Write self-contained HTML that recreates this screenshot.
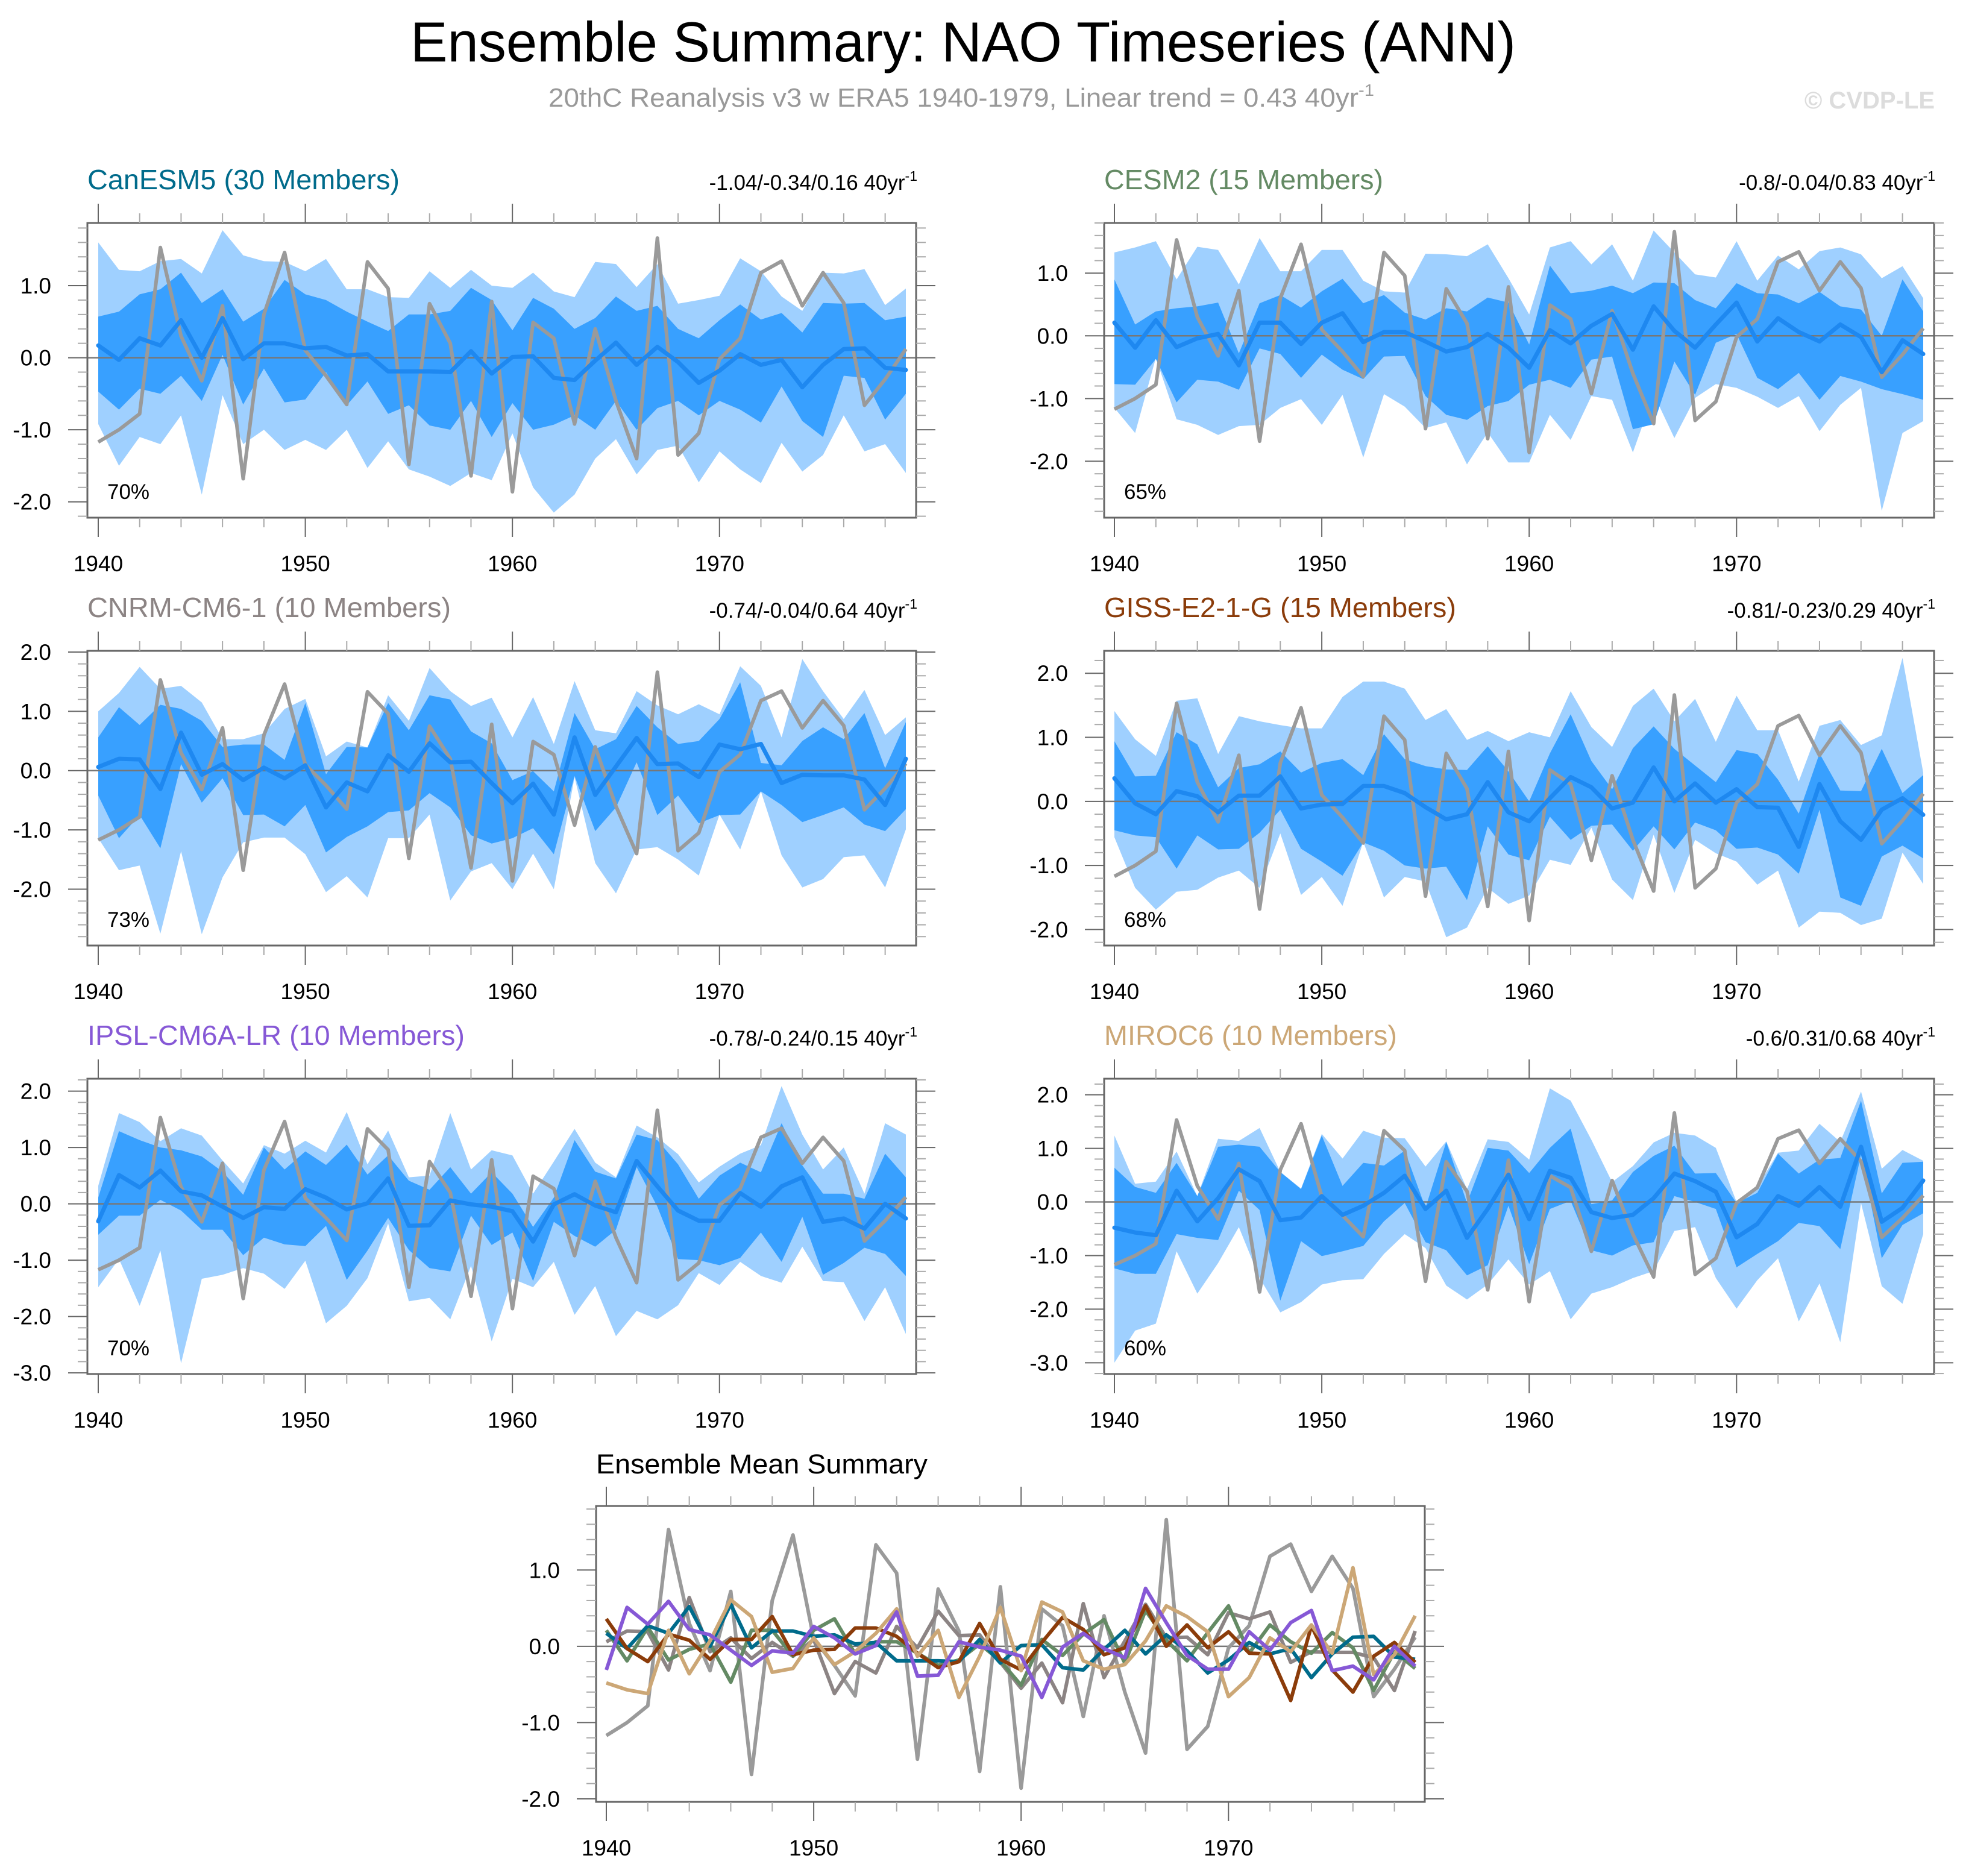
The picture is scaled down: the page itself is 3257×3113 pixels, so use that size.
<!DOCTYPE html>
<html><head><meta charset="utf-8"><title>Ensemble Summary: NAO Timeseries (ANN)</title>
<style>
html,body{margin:0;padding:0;background:#fff;}
svg{display:block;font-family:"Liberation Sans",Arial,sans-serif;}
</style></head>
<body>
<svg id="chart" xmlns="http://www.w3.org/2000/svg" width="3257" height="3113" viewBox="0 0 3257 3113">
<rect x="0" y="0" width="3257" height="3113" fill="#fff"/>
<text x="681" y="102" font-size="94" textLength="1834" lengthAdjust="spacingAndGlyphs" fill="#000">Ensemble Summary: NAO Timeseries (ANN)</text>
<text x="910" y="177" font-size="44" textLength="1370" lengthAdjust="spacingAndGlyphs" fill="#999">20thC Reanalysis v3 w ERA5 1940-1979, Linear trend = 0.43 40yr<tspan dy="-18" font-size="28">-1</tspan></text>
<text x="3210" y="180" font-size="40" font-weight="bold" text-anchor="end" fill="#dcdcdc">© CVDP-LE</text>
<g id="plots"></g>
</svg>
<script>
const years = [];
for (let y = 1940; y <= 1979; y++) years.push(y);
const xTickLabels = ["1940","1950","1960","1970"];

const obs = [-1.17,-1.0,-0.78,1.53,0.3,-0.32,0.72,-1.68,0.6,1.46,0.1,-0.25,-0.65,1.33,0.96,-1.48,0.75,0.2,-1.64,0.78,-1.86,0.49,0.27,-0.92,0.4,-0.6,-1.4,1.66,-1.35,-1.05,-0.02,0.27,1.18,1.34,0.72,1.18,0.76,-0.66,-0.3,0.12];

// CanESM5
const canMean = [0.17,-0.03,0.27,0.17,0.52,0.0,0.55,-0.02,0.2,0.2,0.13,0.15,0.03,0.05,-0.19,-0.19,-0.19,-0.2,0.09,-0.22,0.01,0.02,-0.28,-0.31,-0.04,0.21,-0.1,0.15,-0.06,-0.35,-0.18,0.05,-0.1,-0.03,-0.41,-0.1,0.12,0.13,-0.14,-0.17];
const canInHi = [0.57,0.64,0.88,0.95,1.18,0.76,0.95,0.5,0.68,1.08,0.88,0.8,0.64,0.5,0.37,0.6,0.6,0.65,0.97,0.8,0.38,0.83,0.68,0.4,0.55,0.85,0.65,0.72,0.4,0.27,0.52,0.74,0.53,0.62,0.35,0.76,0.75,0.76,0.52,0.57];
const canInLo = [-0.47,-0.72,-0.43,-0.5,-0.25,-0.6,0.04,-0.65,-0.15,-0.62,-0.58,-0.2,-0.66,-0.33,-0.78,-0.66,-0.94,-1.0,-0.6,-1.1,-0.63,-1.0,-0.93,-0.8,-1.0,-0.6,-1.0,-0.7,-0.6,-0.8,-0.6,-0.72,-0.9,-0.4,-0.88,-1.1,-0.25,-0.28,-0.86,-0.5];
const canOutHi = [1.6,1.22,1.2,1.34,1.37,1.17,1.77,1.42,1.34,1.33,1.2,1.37,0.95,0.95,0.84,0.83,1.2,0.97,1.22,1.0,0.97,1.18,0.92,0.84,1.33,1.3,0.98,1.3,0.75,0.8,0.86,1.38,1.2,0.85,0.65,1.18,1.17,1.23,0.73,0.96];
const canOutLo = [-0.92,-1.5,-1.1,-1.2,-0.8,-1.9,-0.52,-1.2,-1.0,-1.28,-1.14,-1.28,-1.0,-1.53,-1.16,-1.55,-1.65,-1.78,-1.6,-1.7,-1.05,-1.8,-2.15,-1.9,-1.4,-1.13,-1.62,-1.28,-1.22,-1.73,-1.3,-1.55,-1.74,-1.18,-1.58,-1.35,-0.8,-1.3,-1.2,-1.6];
const canYTicks = ["1.0","0.0","-1.0","-2.0"];

// CESM2
const cesmMean = [0.21,-0.19,0.25,-0.18,-0.04,0.03,-0.47,0.21,0.21,-0.13,0.21,0.36,-0.1,0.06,0.06,-0.09,-0.25,-0.18,0.03,-0.19,-0.51,0.09,-0.12,0.16,0.35,-0.22,0.47,0.08,-0.19,0.18,0.53,-0.09,0.28,0.06,-0.09,0.18,-0.02,-0.58,-0.07,-0.29];
const cesmInHi = [0.9,0.18,0.39,0.44,0.47,0.53,-0.28,0.52,0.65,0.45,0.71,0.91,0.52,0.65,0.37,0.26,0.44,0.39,0.61,0.53,-0.14,1.12,0.68,0.72,0.8,0.68,0.85,0.84,0.57,0.44,0.84,0.68,0.66,0.52,0.7,0.47,0.42,0.0,0.9,0.39];
const cesmInLo = [-0.77,-0.78,-0.37,-1.06,-0.7,-0.73,-0.86,-0.2,-0.29,-0.67,-0.3,-0.54,-0.69,-0.33,-0.32,-0.96,-1.26,-1.34,-1.12,-1.04,-0.78,-0.7,-0.83,-0.38,-0.33,-1.49,-1.41,-0.41,-0.94,-0.11,0.03,-0.67,-0.85,-0.59,-1.02,-0.64,-0.73,-0.85,-0.93,-1.02];
const cesmOutHi = [1.33,1.41,1.51,0.9,1.42,1.37,0.82,1.56,1.03,1.03,1.37,1.37,0.88,0.71,0.69,1.31,1.3,1.27,1.46,0.92,0.34,1.41,1.51,1.14,1.46,0.88,1.68,1.33,0.98,0.93,1.51,0.88,1.28,1.06,1.35,1.41,1.3,0.92,1.11,0.6];
const cesmOutLo = [-1.15,-1.55,-0.35,-1.33,-1.42,-1.58,-1.44,-1.42,-1.15,-1.01,-1.42,-0.94,-1.94,-0.93,-1.13,-1.47,-1.38,-2.05,-1.54,-2.02,-2.02,-1.26,-1.66,-0.96,-1.02,-1.86,-0.93,-1.63,-0.99,-0.77,-0.83,-0.97,-1.15,-0.96,-1.52,-1.1,-0.83,-2.79,-1.55,-1.36];
const cesmYTicks = ["1.0","0.0","-1.0","-2.0"];

// CNRM-CM6-1
const cnrmMean = [0.06,0.2,0.19,-0.31,0.64,-0.07,0.11,-0.16,0.05,-0.13,0.09,-0.62,-0.2,-0.35,0.26,-0.02,0.46,0.14,0.15,-0.21,-0.55,-0.22,-0.74,0.56,-0.41,0.07,0.55,0.11,0.12,-0.11,0.44,0.36,0.45,-0.21,-0.07,-0.08,-0.08,-0.15,-0.58,0.2];
const cnrmInHi = [0.56,1.07,0.77,1.11,1.04,0.84,0.4,0.44,0.44,0.18,1.14,-0.06,0.4,0.39,1.14,0.68,1.27,1.2,0.66,0.46,-0.16,-0.01,-0.35,0.97,0.36,0.53,1.09,0.73,0.45,0.5,0.87,1.49,0.13,0.09,0.5,0.73,0.53,0.97,0.04,0.82];
const cnrmInLo = [-0.42,-1.14,-0.75,-1.31,0.11,-0.54,-0.13,-0.75,-0.74,-0.94,-0.58,-1.38,-1.12,-0.94,-0.7,-0.67,-0.38,-0.62,-1.09,-1.23,-1.14,-0.97,-1.41,-0.09,-1.02,-0.62,0.14,-0.75,-0.42,-0.89,-0.75,-0.74,-0.35,-0.58,-0.87,-0.75,-0.62,-0.91,-1.02,-0.65];
const cnrmOutHi = [1.0,1.31,1.75,1.38,1.43,1.15,0.53,0.53,0.63,1.04,1.21,0.24,0.49,0.39,1.27,0.84,1.73,1.34,1.09,1.23,0.56,1.24,0.45,1.51,0.68,0.63,1.34,1.1,0.95,1.12,0.95,1.76,1.43,0.56,1.88,1.34,0.87,1.36,0.6,0.9];
const cnrmOutLo = [-1.14,-1.68,-1.6,-2.75,-1.36,-2.76,-1.8,-1.21,-1.13,-1.13,-1.41,-2.05,-1.78,-2.14,-1.14,-1.14,-0.74,-2.19,-1.7,-1.56,-2.0,-1.4,-2.0,-0.11,-1.56,-2.07,-1.33,-1.29,-1.5,-1.77,-0.74,-1.33,-0.35,-1.43,-1.97,-1.83,-1.46,-1.43,-1.97,-0.99];
const cnrmYTicks = ["2.0","1.0","0.0","-1.0","-2.0"];

// GISS-E2-1-G
const gissMean = [0.36,-0.03,-0.2,0.16,0.08,-0.17,0.09,0.09,0.39,-0.11,-0.05,-0.04,0.24,0.24,0.13,-0.09,-0.28,-0.2,0.3,-0.17,-0.31,0.05,0.38,0.22,-0.11,-0.02,0.53,0.0,0.28,-0.02,0.19,-0.09,-0.1,-0.71,0.27,-0.31,-0.6,-0.13,0.05,-0.21];
const gissInHi = [0.94,0.39,0.4,1.08,0.89,0.22,0.52,0.58,0.78,0.45,0.6,0.66,0.41,1.05,0.66,0.55,0.5,0.49,0.86,0.47,0.0,0.75,1.36,0.63,0.19,0.83,1.17,0.82,0.56,0.3,0.8,0.74,0.34,-0.19,0.75,0.17,0.16,0.82,0.13,0.41];
const gissInLo = [-0.45,-0.53,-0.56,-1.05,-0.53,-0.75,-0.74,-0.49,-0.13,-0.74,-0.94,-1.16,-0.64,-0.77,-1.0,-1.05,-1.02,-1.54,-0.39,-0.83,-0.92,-0.24,-0.6,-0.38,-0.36,-0.77,-0.39,-0.75,-0.33,-0.45,-0.74,-0.72,-0.83,-1.13,-0.13,-1.5,-1.63,-0.86,-0.69,-0.89];
const gissOutHi = [1.41,0.97,0.71,1.57,1.61,0.74,1.33,1.25,1.19,1.14,1.14,1.63,1.87,1.87,1.76,1.27,1.44,0.96,1.1,0.94,1.08,1.0,1.72,1.16,0.85,1.49,1.76,1.25,1.6,0.93,1.65,1.11,1.11,0.31,1.18,1.27,0.88,1.03,2.24,0.45];
const gissOutLo = [-0.56,-1.35,-1.69,-1.41,-1.38,-1.19,-1.08,-1.35,-0.5,-1.46,-1.18,-1.63,-0.63,-1.5,-1.18,-1.25,-2.12,-1.97,-1.35,-1.6,-1.47,-0.91,-0.99,-0.41,-1.22,-1.54,-0.52,-1.43,-0.6,-0.81,-0.94,-1.3,-1.08,-1.97,-1.72,-1.74,-1.93,-1.83,-0.8,-1.29];
const gissYTicks = ["2.0","1.0","0.0","-1.0","-2.0"];

// IPSL-CM6A-LR
const ipslMean = [-0.31,0.51,0.29,0.59,0.22,0.15,-0.05,-0.25,-0.06,-0.09,0.26,0.11,-0.1,0.01,0.45,-0.39,-0.38,0.06,-0.01,-0.05,-0.13,-0.67,-0.01,0.17,-0.03,-0.15,0.76,0.31,-0.12,-0.3,-0.3,0.19,-0.05,0.31,0.47,-0.32,-0.26,-0.44,0.0,-0.26];
const ipslInHi = [0.11,1.29,1.13,1.0,0.95,0.84,0.57,0.16,1.0,0.61,0.93,0.69,1.05,0.52,0.86,0.41,0.25,0.65,0.18,0.56,0.18,-0.41,0.11,1.13,0.57,0.45,1.23,1.13,0.7,0.09,0.5,0.73,0.56,1.43,0.68,0.18,0.18,0.09,0.89,0.47];
const ipslInLo = [-0.55,-0.21,-0.21,0.07,-0.12,-0.46,-0.46,-0.91,-0.6,-0.72,-0.75,-0.39,-1.35,-0.83,-0.25,-0.82,-1.14,-1.2,-0.21,-0.73,-0.51,-1.37,-0.32,-0.57,-0.76,-0.46,0.65,-0.05,-0.98,-1.0,-1.09,-0.96,-0.51,-1.03,-0.23,-1.26,-1.05,-0.78,-0.89,-1.28];
const ipslOutHi = [0.32,1.61,1.45,1.11,1.34,1.21,0.77,0.36,1.04,0.89,1.12,0.91,1.63,0.7,1.3,0.47,0.5,1.61,0.61,0.95,0.86,0.18,0.75,1.33,0.73,0.47,1.39,1.18,0.88,0.38,0.66,0.89,1.04,2.09,1.23,0.61,1.0,0.18,1.43,1.23];
const ipslOutLo = [-1.48,-0.98,-1.81,-0.83,-2.83,-1.33,-1.26,-1.14,-1.24,-1.51,-1.01,-2.12,-1.81,-1.32,-0.35,-1.73,-1.67,-2.05,-1.1,-2.44,-1.33,-1.48,-1.03,-1.97,-1.46,-2.35,-1.9,-2.05,-1.8,-1.23,-1.44,-1.03,-1.28,-1.4,-0.76,-1.37,-1.39,-2.08,-1.48,-2.31];
const ipslYTicks = ["2.0","1.0","0.0","-1.0","-2.0","-3.0"];

// MIROC6
const mirocMean = [-0.48,-0.57,-0.62,0.21,-0.36,0.07,0.61,0.39,-0.34,-0.29,0.11,-0.24,-0.07,0.17,0.49,-0.13,0.21,-0.67,-0.13,0.51,-0.32,0.58,0.45,-0.19,-0.3,-0.24,0.07,0.53,0.39,0.19,-0.66,-0.41,0.11,-0.07,0.28,-0.09,1.03,-0.37,-0.11,0.4];
const mirocInHi = [0.64,0.28,0.17,0.73,0.11,1.03,1.07,1.03,0.56,0.24,1.24,0.3,0.73,0.68,0.96,-0.11,1.12,-0.02,1.01,0.96,0.54,1.01,1.37,-0.04,0.03,0.56,0.86,1.05,0.53,0.54,-0.02,0.17,0.9,0.53,0.79,0.82,1.89,0.16,0.73,0.75];
const mirocInLo = [-1.24,-1.34,-1.34,-0.6,-0.67,-0.71,0.21,-0.15,-1.84,-0.73,-1.01,-0.92,-0.82,-0.36,-0.02,-0.75,-0.9,-1.37,-1.18,-0.07,-1.16,-0.13,0.02,-0.9,-1.0,-0.81,-0.75,0.11,0.0,-0.13,-1.22,-0.97,-0.73,-0.39,-0.45,-0.88,0.88,-1.05,-0.43,-0.21];
const mirocOutHi = [1.24,0.34,0.38,0.94,0.11,1.18,1.14,1.38,0.56,0.25,1.27,0.81,1.33,1.2,1.19,0.66,1.13,0.24,1.17,1.12,0.79,2.12,1.89,1.16,0.37,0.67,1.11,1.29,1.24,1.01,0.0,0.28,0.92,0.96,1.46,1.12,2.06,0.62,0.97,0.77];
const mirocOutLo = [-3.0,-2.4,-2.27,-0.92,-1.71,-1.14,-0.47,-1.42,-2.06,-1.87,-1.54,-1.46,-1.44,-0.97,-0.6,-0.86,-1.56,-1.82,-1.54,-1.07,-1.54,-1.29,-2.19,-1.71,-1.59,-1.42,-1.29,-0.54,-0.47,-1.42,-1.99,-1.46,-1.05,-2.23,-1.52,-2.62,-0.02,-1.57,-1.9,-0.6];
const mirocYTicks = ["2.0","1.0","0.0","-1.0","-2.0","-3.0"];

const summaryYTicks = ["1.0","0.0","-1.0","-2.0"];

const NS = "http://www.w3.org/2000/svg";
const root = document.getElementById("plots");
function mk(tag, attrs, parent) {
  const e = document.createElementNS(NS, tag);
  for (const k in attrs) e.setAttribute(k, attrs[k]);
  (parent || root).appendChild(e);
  return e;
}

const models = [
  {key:"canesm5", title:"CanESM5 (30 Members)", tlen:518, color:"#006b8b", trend:"-1.04/-0.34/0.16 40yr", pct:"70%",
   mean:canMean, inHi:canInHi, inLo:canInLo, outHi:canOutHi, outLo:canOutLo, ticks:canYTicks, ymin:-2.22, ymax:1.87, col:0, row:0},
  {key:"cesm2", title:"CESM2 (15 Members)", tlen:463, color:"#648a64", trend:"-0.8/-0.04/0.83 40yr", pct:"65%",
   mean:cesmMean, inHi:cesmInHi, inLo:cesmInLo, outHi:cesmOutHi, outLo:cesmOutLo, ticks:cesmYTicks, ymin:-2.9, ymax:1.8, col:1, row:0},
  {key:"cnrm-cm6-1", title:"CNRM-CM6-1 (10 Members)", tlen:603, color:"#8c8484", trend:"-0.74/-0.04/0.64 40yr", pct:"73%",
   mean:cnrmMean, inHi:cnrmInHi, inLo:cnrmInLo, outHi:cnrmOutHi, outLo:cnrmOutLo, ticks:cnrmYTicks, ymin:-2.95, ymax:2.02, col:0, row:1},
  {key:"giss-e2-1-g", title:"GISS-E2-1-G (15 Members)", tlen:584, color:"#8b3c0a", trend:"-0.81/-0.23/0.29 40yr", pct:"68%",
   mean:gissMean, inHi:gissInHi, inLo:gissInLo, outHi:gissOutHi, outLo:gissOutLo, ticks:gissYTicks, ymin:-2.25, ymax:2.35, col:1, row:1},
  {key:"ipsl-cm6a-lr", title:"IPSL-CM6A-LR (10 Members)", tlen:626, color:"#8658d6", trend:"-0.78/-0.24/0.15 40yr", pct:"70%",
   mean:ipslMean, inHi:ipslInHi, inLo:ipslInLo, outHi:ipslOutHi, outLo:ipslOutLo, ticks:ipslYTicks, ymin:-3.02, ymax:2.22, col:0, row:2},
  {key:"miroc6", title:"MIROC6 (10 Members)", tlen:486, color:"#cca776", trend:"-0.6/0.31/0.68 40yr", pct:"60%",
   mean:mirocMean, inHi:mirocInHi, inLo:mirocInLo, outHi:mirocOutHi, outLo:mirocOutLo, ticks:mirocYTicks, ymin:-3.21, ymax:2.3, col:1, row:2}
];

function drawAxes(g, L, R, T, B, xs, ys, yTicks, name) {
  const lo = Math.ceil(ys.min * 5), hi = Math.floor(ys.max * 5);
  for (let k = lo; k <= hi; k++) {
    const v = k / 5, y = ys(v);
    const major = Math.abs(k % 5) === 0;
    const len = major ? 32 : 16;
    const l1 = mk("line", {x1:L-len, y1:y, x2:L, y2:y, stroke: major ? "#666" : "#aaa", "stroke-width":2}, g);
    
    
    const l2 = mk("line", {x1:R, y1:y, x2:R+len, y2:y, stroke: major ? "#666" : "#aaa", "stroke-width":2}, g);
    
    
  }
  yTicks.forEach(lbl => {
    const t = mk("text", {x:L-60, y:ys(parseFloat(lbl))+13, "font-size":37, "text-anchor":"end", fill:"#000"}, g);
    t.textContent = lbl;
    
    
  });
  years.forEach(yr => {
    if (yr % 2 !== 0) return;
    const major = yr % 10 === 0;
    const x = xs(yr), len = major ? 32 : 16;
    const a = mk("line", {x1:x, y1:T-len, x2:x, y2:T, stroke: major ? "#666" : "#aaa", "stroke-width":2}, g);
    
    
    const b = mk("line", {x1:x, y1:B, x2:x, y2:B+len, stroke: major ? "#666" : "#aaa", "stroke-width":2}, g);
    
    
  });
  xTickLabels.forEach(lbl => {
    const t = mk("text", {x:xs(parseInt(lbl)), y:B+89, "font-size":37, "text-anchor":"middle", fill:"#000"}, g);
    t.textContent = lbl;
    
    
  });
}

function makeScales(L, R, T, B, ymin, ymax, x0, x1) {
  const xs = yr => x0 + (yr - 1940) * (x1 - x0) / 39;
  const ys = v => T + (ymax - v) * (B - T) / (ymax - ymin);
  ys.min = ymin; ys.max = ymax;
  return [xs, ys];
}
function pathOf(arr, xs, ys) {
  return arr.map((v, i) => (i ? "L" : "M") + xs(years[i]).toFixed(1) + "," + ys(v).toFixed(1)).join(" ");
}
function bandOf(hi, lo, xs, ys) {
  let d = hi.map((v, i) => (i ? "L" : "M") + xs(years[i]).toFixed(1) + "," + ys(v).toFixed(1)).join(" ");
  for (let i = lo.length - 1; i >= 0; i--) d += " L" + xs(years[i]).toFixed(1) + "," + ys(lo[i]).toFixed(1);
  return d + " Z";
}

const colL = [145, 1832], colR = [1520, 3209], colX0 = [163, 1849], colX1 = [1503, 3191];
const rowT = [370, 1080, 1790], rowB = [859, 1569, 2280];

models.forEach(m => {
  const L = colL[m.col], R = colR[m.col], T = rowT[m.row], B = rowB[m.row];
  const g = mk("g", {});
  
  
  const [xs, ys] = makeScales(L, R, T, B, m.ymin, m.ymax, colX0[m.col], colX1[m.col]);
  const clipId = "clip-" + m.key;
  const cp = mk("clipPath", {id: clipId}, g);
  mk("rect", {x:L, y:T, width:R-L, height:B-T}, cp);
  const pg = mk("g", {"clip-path":"url(#" + clipId + ")"}, g);
  
  
  const ob = mk("path", {d: bandOf(m.outHi, m.outLo, xs, ys), fill:"#9fd0ff", stroke:"none"}, pg);
  
  
  const ib = mk("path", {d: bandOf(m.inHi, m.inLo, xs, ys), fill:"#38a0ff", stroke:"none"}, pg);
  
  
  const z = mk("line", {x1:L, y1:ys(0), x2:R, y2:ys(0), stroke:"#777", "stroke-width":2.5}, pg);
  
  
  const ol = mk("path", {d: pathOf(obs, xs, ys), fill:"none", stroke:"#9a9a9a", "stroke-width":6, "stroke-linejoin":"round"}, pg);
  
  
  const ml = mk("path", {d: pathOf(m.mean, xs, ys), fill:"none", stroke:"#1e88f0", "stroke-width":7, "stroke-linejoin":"round", "stroke-linecap":"round"}, pg);
  
  
  const fr = mk("rect", {x:L, y:T, width:R-L, height:B-T, fill:"none", stroke:"#666", "stroke-width":3}, g);
  
  
  drawAxes(g, L, R, T, B, xs, ys, m.ticks, m.key);
  const tt = mk("text", {x:L, y:T-56, "font-size":46, fill:m.color, textLength:m.tlen, lengthAdjust:"spacingAndGlyphs"}, g);
  tt.textContent = m.title;
  
  
  const tr = mk("text", {x:R+2, y:T-55, "font-size":35, "text-anchor":"end", fill:"#000"}, g);
  
  
  tr.appendChild(document.createTextNode(m.trend));
  const sp = mk("tspan", {dy:-15, "font-size":23}, tr);
  sp.textContent = "-1";
  const pc = mk("text", {x:L+33, y:B-31, "font-size":35, fill:"#000"}, g);
  pc.textContent = m.pct;
  
  
});

(function(){
  const L = 989, R = 2364, T = 2499, B = 2990;
  const g = mk("g", {});
  
  
  const [xs, ys] = makeScales(L, R, T, B, -2.04, 1.84, 1006, 2348);
  const cp = mk("clipPath", {id:"clip-summary"}, g);
  mk("rect", {x:L, y:T, width:R-L, height:B-T}, cp);
  const pg = mk("g", {"clip-path":"url(#clip-summary)"}, g);
  const z = mk("line", {x1:L, y1:ys(0), x2:R, y2:ys(0), stroke:"#777", "stroke-width":2.5}, pg);
  
  
  const ol = mk("path", {d: pathOf(obs, xs, ys), fill:"none", stroke:"#9a9a9a", "stroke-width":6, "stroke-linejoin":"round"}, pg);
  
  
  const order = [2, 1, 0, 3, 5, 4];
  order.forEach(i => {
    const m = models[i];
    const p = mk("path", {d: pathOf(m.mean, xs, ys), fill:"none", stroke:m.color, "stroke-width":6, "stroke-linejoin":"round"}, pg);
    
    
  });
  const fr = mk("rect", {x:L, y:T, width:R-L, height:B-T, fill:"none", stroke:"#666", "stroke-width":3}, g);
  
  
  drawAxes(g, L, R, T, B, xs, ys, summaryYTicks, 'summary');
  const tt = mk("text", {x:L, y:2445, "font-size":45, fill:"#000", textLength:550, lengthAdjust:"spacingAndGlyphs"}, g);
  tt.textContent = "Ensemble Mean Summary";
  
  
})();
</script>
</body></html>
